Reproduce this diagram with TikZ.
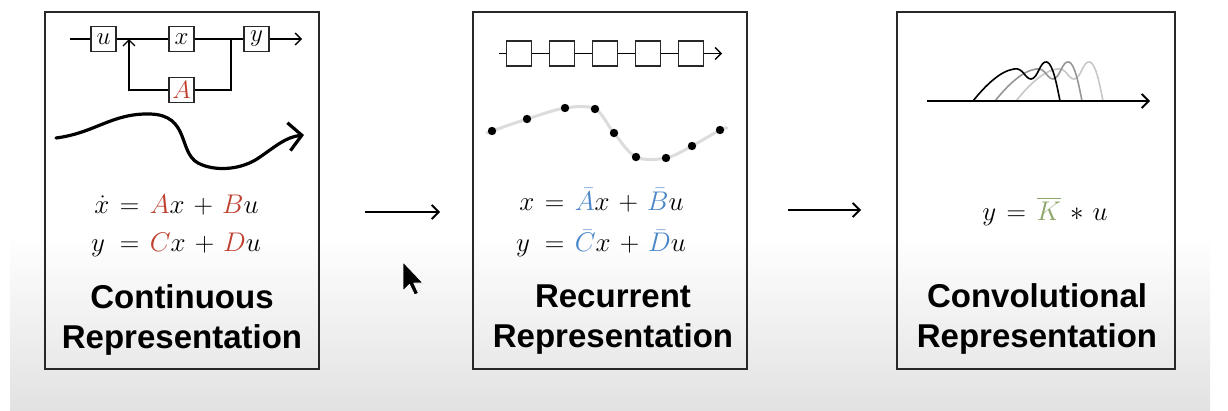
\RequirePackage{fix-cm}
\documentclass[tikz,border=0pt]{standalone}
\usepackage{amsmath}
\usepackage{fontspec}
\newfontfamily\labelfont{Liberation Sans}
\usetikzlibrary{arrows.meta}
\definecolor{eqred}{RGB}{192,64,48}
\definecolor{eqblue}{RGB}{74,134,200}
\definecolor{eqgreen}{RGB}{140,165,105}
\definecolor{bgbot}{RGB}{226,226,226}
\definecolor{framecol}{RGB}{40,40,40}
\definecolor{dotline}{RGB}{220,220,220}
\definecolor{convmid}{RGB}{150,150,150}
\definecolor{convlight}{RGB}{200,200,200}
\tikzset{
  panel/.style={draw=framecol, line width=1.8pt},
  blk/.style={draw=framecol, line width=1.2pt, minimum width=25pt, minimum height=25pt, inner sep=0pt, font=\fontsize{25}{28}\selectfont},
  wire/.style={line width=1.4pt, draw=black},
  smallbarb/.style={-{Straight Barb[length=6pt,width=12pt]}},
  bigbarb/.style={-{Straight Barb[length=7pt,width=14pt]}},
  panellabel/.style={font=\labelfont\bfseries\fontsize{33}{40}\selectfont, align=center, inner sep=0pt},
  eqnode/.style={font=\fontsize{27}{30}\selectfont, inner sep=0pt},
  conv/.style={line width=1.6pt, line join=round, line cap=round},
}
\begin{document}
\begin{tikzpicture}[x=1pt,y=-1pt]
\useasboundingbox (0,0) rectangle (1228,410);
% background
\fill[white] (0,0) rectangle (1228,410);
\shade[top color=white, bottom color=bgbot] (10,235) rectangle (1210,410);

% panels
\draw[panel] (45,12) rectangle (319,369);
\draw[panel] (473,12) rectangle (747,369);
\draw[panel] (897,12) rectangle (1175,369);

% ---------- left panel: block diagram ----------
\node[blk] (u) at (103.5,39) {$u$};
\node[blk] (x) at (181.5,39) {$x$};
\node[blk] (y) at (256.5,39) {$y$};
\node[blk] (A) at (181.5,90) {$\textcolor{eqred}{A}$};
\coordinate (bin) at (70,39);
\coordinate (jin) at (129,39);
\coordinate (jout) at (231,39);
\coordinate (bout) at (302,39);
\draw[wire] (bin) -- (u.west);
\draw[wire] (u.east) -- (x.west);
\draw[wire] (x.east) -- (y.west);
\draw[wire, smallbarb] (y.east) -- (bout);
\draw[wire] (jout) |- (A.east);
\draw[wire, smallbarb] (A.west) -| (jin);

% continuous curve
\draw[line width=3.2pt, line cap=round, -{Straight Barb[length=13pt,width=28pt]}]
  (56,138) .. controls (95,133) and (112,113) .. (150,114)
  .. controls (190,115) and (178,152) .. (198,163)
  .. controls (215,172) and (242,170) .. (260,157)
  .. controls (276,146) and (286,137) .. (304,135);

\node[eqnode, anchor=base] (eqL) at (176,213)
  {$\thickmuskip=7mu \medmuskip=6mu
   \begin{aligned}[t] \dot{x} &= \textcolor{eqred}{A}x + \textcolor{eqred}{B}u \\[5pt]
   y\, &= \textcolor{eqred}{C}x + \textcolor{eqred}{D}u \end{aligned}$};
\node[panellabel, anchor=south] (labL) at (182,356) {Continuous\\Representation};

% ---------- middle panel ----------
\coordinate (cin) at (499,53.5);
\coordinate (cout) at (722,53.5);
\node[blk] (c1) at (519,53.5) {};
\node[blk] (c2) at (562,53.5) {};
\node[blk] (c3) at (605,53.5) {};
\node[blk] (c4) at (648,53.5) {};
\node[blk] (c5) at (691,53.5) {};
\draw[wire] (cin) -- (c1.west);
\draw[wire] (c1.east) -- (c2.west);
\draw[wire] (c2.east) -- (c3.west);
\draw[wire] (c3.east) -- (c4.west);
\draw[wire] (c4.east) -- (c5.west);
\draw[wire, smallbarb] (c5.east) -- (cout);

\draw[dotline, line width=3pt, line cap=round] plot[smooth, tension=0.55] coordinates
  {(487,133) (492,131) (527,119) (565,108) (595,109) (614,133) (636,157) (666,158) (692,146) (720,130) (727,128)};
\foreach \p in {(492,131),(527,119),(565,108),(595,109),(614,133),(636,157),(666,158),(692,146),(720,130)}
  \fill \p circle (4.2pt);

\node[eqnode, anchor=base] (eqM) at (601,210)
  {$\thickmuskip=7mu \medmuskip=6mu
   \begin{aligned}[t] x &= \textcolor{eqblue}{\bar{A}}x + \textcolor{eqblue}{\bar{B}}u \\[7pt]
   y\, &= \textcolor{eqblue}{\bar{C}}x + \textcolor{eqblue}{\bar{D}}u \end{aligned}$};
\node[panellabel, anchor=south] (labM) at (613,355) {Recurrent\\Representation};

% ---------- right panel ----------
\coordinate (ax0) at (927,101);
\coordinate (ax1) at (1150,101);
\begin{scope}[xshift=43pt]
\draw[conv, convlight] (973,101) .. controls (985,86) and (1000,71) .. (1014,69)
  .. controls (1023,67) and (1025,79) .. (1031,79)
  .. controls (1038,79) and (1040,60) .. (1047,62)
  .. controls (1053,64) and (1057,86) .. (1060,101);
\end{scope}
\begin{scope}[xshift=22pt]
\draw[conv, convmid] (973,101) .. controls (985,86) and (1000,71) .. (1014,69)
  .. controls (1023,67) and (1025,79) .. (1031,79)
  .. controls (1038,79) and (1040,60) .. (1047,62)
  .. controls (1053,64) and (1057,86) .. (1060,101);
\end{scope}
\draw[conv, black] (973,101) .. controls (985,86) and (1000,71) .. (1014,69)
  .. controls (1023,67) and (1025,79) .. (1031,79)
  .. controls (1038,79) and (1040,60) .. (1047,62)
  .. controls (1053,64) and (1057,86) .. (1060,101);
\draw[wire, line width=1.8pt, bigbarb] (ax0) -- (ax1);

\node[eqnode, anchor=base] (eqR) at (1045,220)
  {$\thickmuskip=7mu \medmuskip=6mu y = \textcolor{eqgreen}{\overline{K}} \ast u$};
\node[panellabel, anchor=south] (labR) at (1037,355) {Convolutional\\Representation};

% ---------- arrows between panels ----------
\coordinate (a1s) at (365,212);
\coordinate (a1e) at (440,212);
\coordinate (a2s) at (788,210);
\coordinate (a2e) at (861,210);
\draw[wire, line width=1.8pt, bigbarb] (a1s) -- (a1e);
\draw[wire, line width=1.8pt, bigbarb] (a2s) -- (a2e);

% mouse cursor
\filldraw[fill=black, draw=white, line width=0.8pt, line join=round]
  (403,262) -- (403,291) -- (409.5,284.5) -- (414.5,295) -- (418.5,293.2) -- (413.8,283) -- (423,283) -- cycle;
\end{tikzpicture}
\end{document}
